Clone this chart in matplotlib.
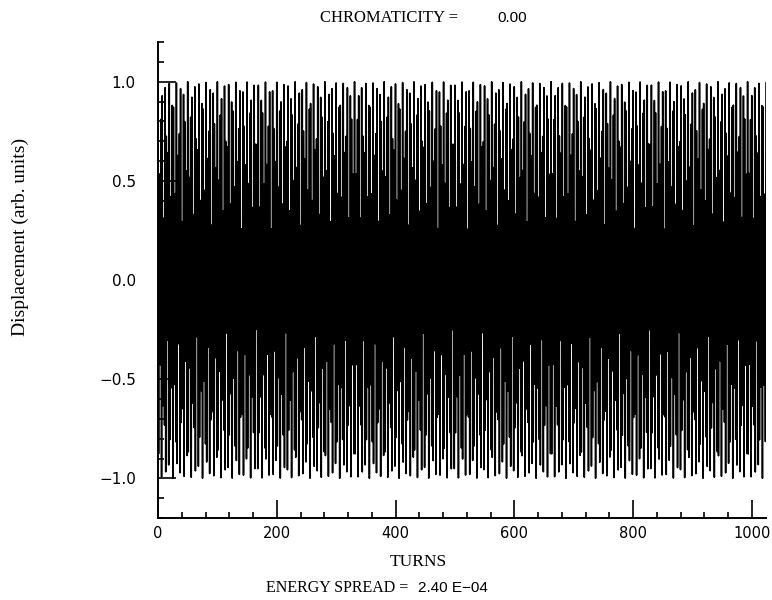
import numpy as np
import matplotlib.pyplot as plt
from matplotlib.ticker import MultipleLocator

# Values
n_turns = 1024          # turns tracked (x axis runs to the right edge)
amplitude = 1.0         # peak displacement, arb. units
tune_frac = 0.41994     # fractional tune near 1/2: a spike every ~6.25 turns
chromaticity = 0.00
energy_spread = "2.40 E-04"

x_ticks = [0, 200, 400, 600, 800, 1000]
y_ticks = [-1.0, -0.5, 0.0, 0.5, 1.0]

# Turn-by-turn displacement of the kicked beam
turns = np.arange(n_turns + 1)
displacement = amplitude * np.cos(2 * np.pi * tune_frac * turns)

W, H = 772, 600
fig = plt.figure(figsize=(W / 100, H / 100), dpi=100)
# axes placed in pixels: left 158, right 766, top 42, bottom 518
ax = fig.add_axes([158 / W, (H - 518) / H, (766 - 158) / W, (518 - 42) / H])

# heavy pen line of the original plotter output
ax.plot(turns, displacement, color='black', lw=1.15)

ax.set_xlim(0, n_turns)
ax.set_ylim(-1.2, 1.2)

ax.spines['top'].set_visible(False)
ax.spines['right'].set_visible(False)
for s in ('left', 'bottom'):
    ax.spines[s].set_linewidth(1.4)

ax.set_xticks(x_ticks)
ax.set_yticks(y_ticks)
ax.set_yticklabels([f'{v:.1f}'.replace('-', '\u2212') for v in y_ticks])
ax.xaxis.set_minor_locator(MultipleLocator(40))
ax.yaxis.set_minor_locator(MultipleLocator(0.1))
ax.tick_params(which='both', direction='in', width=1.2, color='black')
ax.tick_params(which='major', length=13)
ax.tick_params(which='minor', length=4.5)
ax.tick_params(axis='y', which='major', pad=16, labelsize=11)
ax.tick_params(axis='x', which='major', pad=6, labelsize=10.5)

serif = 'Liberation Serif'
sans = 'Liberation Sans'

# top caption
fig.text(320 / W, 1 - 18 / H, 'CHROMATICITY =', family=serif, fontsize=12,
         ha='left', va='center')
fig.text(497 / W, 1 - 18 / H, f'{chromaticity:.2f}', family=sans, fontsize=11,
         ha='left', va='center')

# axis labels
fig.text(418 / W, 1 - 562 / H, 'TURNS', family=serif, fontsize=12.5,
         ha='center', va='center')
fig.text(20 / W, 1 - 237 / H, 'Displacement (arb. units)', family=serif,
         fontsize=14, rotation=90, ha='center', va='center')

# bottom caption
fig.text(266 / W, 1 - 588 / H, 'ENERGY SPREAD =', family=serif, fontsize=11.5,
         ha='left', va='center')
fig.text(418 / W, 1 - 588 / H, energy_spread.replace('-', '\u2212'),
         family=sans, fontsize=11, ha='left', va='center')

fig.savefig('out.png', dpi=100)
